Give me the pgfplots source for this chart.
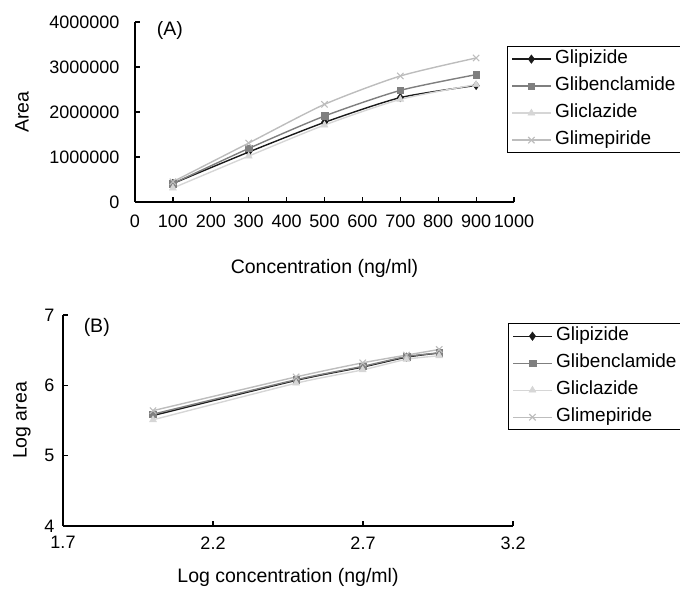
\documentclass[border=0pt]{standalone}
\usepackage{fontspec}
\setmainfont{Liberation Sans}
\usepackage{pgfplots}
\pgfplotsset{compat=1.18}
\definecolor{cA}{HTML}{1A1A1A}
\definecolor{cB}{HTML}{7F7F7F}
\definecolor{cC}{HTML}{D6D6D6}
\definecolor{cD}{HTML}{BDBDBD}
\newcommand{\lblfont}{\fontsize{19.5bp}{22bp}\selectfont}
\pgfplotsset{
  common/.style={
    scale only axis,
    axis x line*=bottom, axis y line*=left,
    axis line style={line width=1.4bp, black},
    tick align=inside,
    major tick length=5bp,
    every tick/.style={line width=1.2bp, black},
    tick label style={font=\fontsize{18bp}{20bp}\selectfont},
    /pgf/number format/assume math mode=true,
    /pgf/number format/1000 sep={},
    legend cell align=left,
    legend style={draw=black, line width=1.4bp, font=\fontsize{19bp}{21bp}\selectfont,
      anchor=north west, inner xsep=4bp, inner ysep=2bp, row sep=6bp,
      nodes={line width=0.8bp, text height=13bp, text depth=4bp, inner ysep=2bp, inner xsep=4bp}},
    legend image code/.code={%
      \draw[mark repeat=2,mark phase=2] plot coordinates {(0bp,0bp) (19bp,0bp) (38bp,0bp)};},
    every axis plot/.append style={line width=1.4bp, mark size=3.5bp, smooth, tension=0.4},
  },
  pA/.style={color=cA, mark=diamond*, mark options={fill=cA, draw=cA, line width=0.5bp}, mark size=4.2bp},
  pB/.style={color=cB, mark=square*, mark options={fill=cB, draw=cB, line width=0.5bp}, mark size=3.3bp},
  pC/.style={color=cC, mark=triangle*, mark options={fill=cC, draw=cC, line width=0.5bp}, mark size=4bp},
  pD/.style={color=cD, mark=x, mark options={draw=cD, line width=1.1bp}, mark size=4.5bp},
}
\begin{document}
\begin{tikzpicture}[x=1bp,y=1bp]
\useasboundingbox (0,0) rectangle (680,591);
% Panel A
\begin{axis}[common,
  at={(135bp,389bp)}, anchor=south west,
  width=379bp, height=180bp,
  xmin=0, xmax=1000, ymin=0, ymax=4000000,
  xtick={0,100,...,1000}, ytick={0,1000000,2000000,3000000,4000000},
  scaled y ticks=false,
  yticklabel style={/pgf/number format/fixed},
  xticklabel shift=9bp, yticklabel shift=12bp,
  xlabel={Concentration (ng/ml)}, ylabel={Area},
  every axis x label/.style={at={(axis description cs:0.5,-0.367)}, anchor=center, font=\lblfont},
  every axis y label/.style={at={(axis description cs:-0.298,0.5)}, rotate=90, anchor=center, font=\lblfont},
  legend style={at={(axis description cs:0.9815,0.867)}},
]
\addplot[pA] coordinates {(100,410000) (300,1110000) (500,1770000) (700,2320000) (900,2590000)};
\addplot[pB] coordinates {(100,410000) (300,1190000) (500,1910000) (700,2480000) (900,2830000)};
\addplot[pC] coordinates {(100,310000) (300,1020000) (500,1710000) (700,2280000) (900,2610000)};
\addplot[pD] coordinates {(100,450000) (300,1310000) (500,2170000) (700,2800000) (900,3200000)};
\legend{Glipizide,Glibenclamide,Gliclazide,Glimepiride}
\node[font=\lblfont] at (axis description cs:0.092,0.955) {(A)};
\end{axis}
% Panel B
\begin{axis}[common,
  at={(63bp,65bp)}, anchor=south west,
  width=450bp, height=211bp,
  xmin=1.7, xmax=3.2, ymin=4, ymax=7,
  xtick={1.7,2.2,2.7,3.2}, ytick={4,5,6,7},
  xticklabel style={/pgf/number format/fixed, /pgf/number format/precision=1, /pgf/number format/fixed zerofill},
  xticklabel shift=7bp, yticklabel shift=5bp,
  xlabel={Log concentration (ng/ml)}, ylabel={Log area},
  every axis x label/.style={at={(axis description cs:0.5,-0.246)}, anchor=center, font=\lblfont},
  every axis y label/.style={at={(axis description cs:-0.091,0.5)}, rotate=90, anchor=center, font=\lblfont},
  legend style={at={(axis description cs:0.989,0.962)}},
]
\addplot[pA] coordinates {(2,5.57) (2.477,6.07) (2.699,6.26) (2.845,6.40) (2.954,6.46)};
\addplot[pB] coordinates {(2,5.59) (2.477,6.08) (2.699,6.27) (2.845,6.41) (2.954,6.46)};
\addplot[pC] coordinates {(2,5.51) (2.477,6.03) (2.699,6.22) (2.845,6.37) (2.954,6.42)};
\addplot[pD] coordinates {(2,5.64) (2.477,6.12) (2.699,6.32) (2.845,6.43) (2.954,6.51)};
\legend{Glipizide,Glibenclamide,Gliclazide,Glimepiride}
\node[font=\lblfont] at (axis description cs:0.075,0.94) {(B)};
\end{axis}
\end{tikzpicture}
\end{document}
